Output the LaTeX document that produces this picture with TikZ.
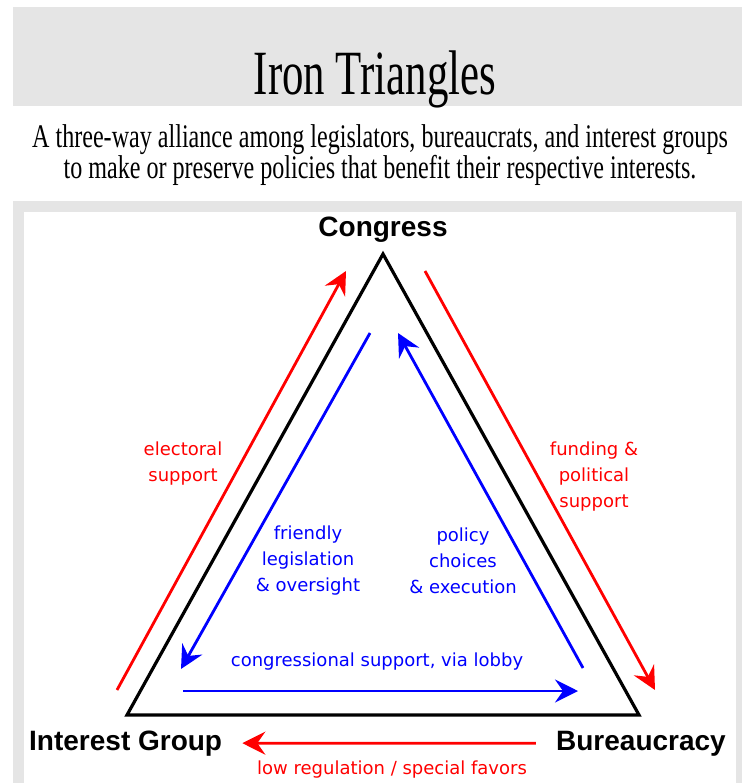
\documentclass[tikz,border=0pt]{standalone}
\usepackage{fontspec}
\setmainfont{Liberation Serif}
\newfontfamily\headfont[FakeStretch=0.68]{Liberation Serif}
\newfontfamily\subheadfont[FakeStretch=0.73]{Liberation Serif}
\newfontfamily\cornerfont{Liberation Sans}
\newfontfamily\flowfont{DejaVu Sans}
\usetikzlibrary{arrows.meta}

\definecolor{framegray}{RGB}{229,229,229}
\definecolor{flowred}{RGB}{255,0,0}
\definecolor{flowblue}{RGB}{0,0,255}

\begin{document}
\begin{tikzpicture}[
    x=1pt, y=-1pt,
    every node/.style={inner sep=0pt},
    corner/.style={font=\cornerfont\bfseries\fontsize{28}{30}\selectfont},
    l/.style={align=center,font=\flowfont\fontsize{18}{26}\selectfont},
    flow/.style={line width=2.8pt,-{Stealth[length=23pt,width=23pt,inset=8pt]}},
    redflow/.style={flow,draw=flowred},
    blueflow/.style={flow,draw=flowblue}
]
    \useasboundingbox (0,0) rectangle (742,783);

    \fill[framegray] (13,7) rectangle (742,783);
    \fill[white] (13,106) rectangle (742,201);
    \fill[white] (24,212) rectangle (736,783);

    \node (title) [anchor=base,font=\headfont\fontsize{63}{63}\selectfont]
        at (375,95) {Iron Triangles};
    \node (subtitle) [align=center,font=\subheadfont\fontsize{33}{29}\selectfont]
        at (380,155) {A three-way alliance among legislators, bureaucrats, and interest groups\\
        to make or preserve policies that benefit their respective interests.};

    \coordinate (top) at (383,254);
    \coordinate (left) at (127,715);
    \coordinate (right) at (639,715);
    \draw [line width=3.2pt] (top) -- (left) -- (right) -- cycle;

    \node (congress) [corner,anchor=base] at (383,237) {Congress};
    \node (interest) [corner,anchor=base west] at (29,750) {Interest Group};
    \node (bureau) [corner,anchor=base east] at (726,750) {Bureaucracy};

    \coordinate (elecS) at (117,690);
    \coordinate (elecE) at (346,271);
    \coordinate (fundS) at (425,271);
    \coordinate (fundE) at (655,690);
    \coordinate (legisS) at (370,333);
    \coordinate (legisE) at (181,669);
    \coordinate (execS) at (583,668);
    \coordinate (execE) at (398,333);
    \coordinate (lobbyS) at (183,691);
    \coordinate (lobbyE) at (578,691);

    \draw [redflow] (elecS) -- (elecE);
    \draw [redflow] (fundS) -- (fundE);
    \draw [redflow,shorten <=20pt,shorten >=20pt] (bureau.west) -- (interest.east);
    \draw [blueflow] (legisS) -- (legisE);
    \draw [blueflow] (execS) -- (execE);
    \draw [blueflow] (lobbyS) -- (lobbyE);

    \node (electoral) [l,text=flowred] at (183,464) {electoral\\support};
    \node (funding) [l,text=flowred] at (594,477) {funding \&\\political\\support};
    \node (friendly) [l,text=flowblue] at (308,561) {friendly\\legislation\\\& oversight};
    \node (policy) [l,text=flowblue] at (463,561) {policy\\choices\\\& execution};
    \node (lobby) [l,text=flowblue] at (377,662) {congressional support, via lobby};
    \node (favors) [l,text=flowred] at (392,770) {low regulation / special favors};
\end{tikzpicture}
\end{document}
